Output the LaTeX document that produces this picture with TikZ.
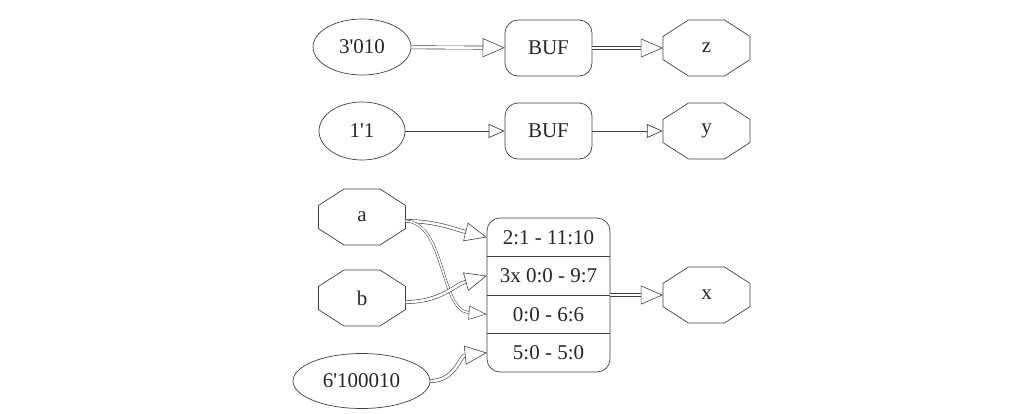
\documentclass[tikz,border=0pt]{standalone}
\usepackage{fontspec}
\newfontfamily\gv{Liberation Serif}
\usetikzlibrary{shapes.geometric,arrows.meta}
\tikzset{
  ln/.style={draw=black!75, line width=0.7pt},
  txt/.style={font=\gv\fontsize{21}{24}\selectfont, text=black!85},
  ell/.style={ellipse, ln, txt, inner sep=0pt},
  cell/.style={rectangle, ln, rounded corners=13pt, txt, minimum width=87pt, minimum height=56pt},
  port/.style={rectangle, draw=none, txt, minimum width=87pt, minimum height=56pt},
  row/.style={rectangle, draw=none, txt, minimum width=123pt, minimum height=38.5pt, inner sep=0pt},
  bit/.style={ln, -{Triangle[open, length=16pt, width=14pt, fill=white]}},
  bus/.style={draw=black!75, line width=0.6pt, double=white, double distance=2.6pt,
              -{Triangle[open, length=22pt, width=19pt, fill=white]}},
}
\newcommand\octo[1]{%
  \draw[ln, shift={(#1.center)}] (43.5,11.6) -- (18,28) -- (-18,28) -- (-43.5,11.6)
    -- (-43.5,-11.6) -- (-18,-28) -- (18,-28) -- (43.5,-11.6) -- cycle;}
\begin{document}
\begin{tikzpicture}[x=1pt,y=-1pt]
\useasboundingbox (0,0) rectangle (1013,413);
% top rows
\node[ell, minimum width=98pt, minimum height=56pt] (c3) at (362,47) {3'010};
\node[cell] (buf1) at (548.5,48) {BUF};
\node[port] (z) at (706.5,48) {z}; \octo{z}
\node[ell, minimum width=86pt, minimum height=58pt] (c1) at (362,131) {1'1};
\node[cell] (buf2) at (548.5,131) {BUF};
\node[port] (y) at (706.5,131) {y}; \octo{y}
% bottom
\node[port] (a) at (362,217) {a}; \octo{a}
\node[port] (b) at (362,298) {b}; \octo{b}
\node[ell, minimum width=137pt, minimum height=55pt] (c6) at (361.5,381) {6'100010};
\node[rectangle, ln, rounded corners=13pt, minimum width=123pt, minimum height=154pt] (rec) at (548.5,295) {};
\node[row] (r1) at (548.5,237.25) {2:1 - 11:10};
\node[row] (r2) at (548.5,275.75) {3x 0:0 - 9:7};
\node[row] (r3) at (548.5,314.25) {0:0 - 6:6};
\node[row] (r4) at (548.5,352.75) {5:0 - 5:0};
\draw[ln] (r1.south west) -- (r1.south east);
\draw[ln] (r2.south west) -- (r2.south east);
\draw[ln] (r3.south west) -- (r3.south east);
\node[port] (x) at (706.5,295) {x}; \octo{x}
% edges
\draw[bus] (c3) -- (buf1);
\draw[bus] (buf1) -- (z.west);
\draw[bit] (c1) -- (buf2);
\draw[bit] (buf2) -- (y.west);
\draw[bus] ([yshift=-4pt]a.east) .. controls +(30,0) and +(-32,-8) .. (r1.west);
\draw[draw=black!75, line width=0.5pt, double=white, double distance=1.6pt,
      -{Triangle[open, length=18pt, width=14pt, fill=white]}]
      ([yshift=-4pt]a.east) .. controls +(40,2) and +(-47,-4) .. (r3.west);
\draw[bus] ([yshift=-4pt]b.east) .. controls +(35,0) and +(-32,9) .. (r2.west);
\draw[bus] (c6.east) .. controls +(25,0) and +(-27,3) .. (r4.west);
\draw[bus] (rec.east) -- (x.west);
\end{tikzpicture}
\end{document}
